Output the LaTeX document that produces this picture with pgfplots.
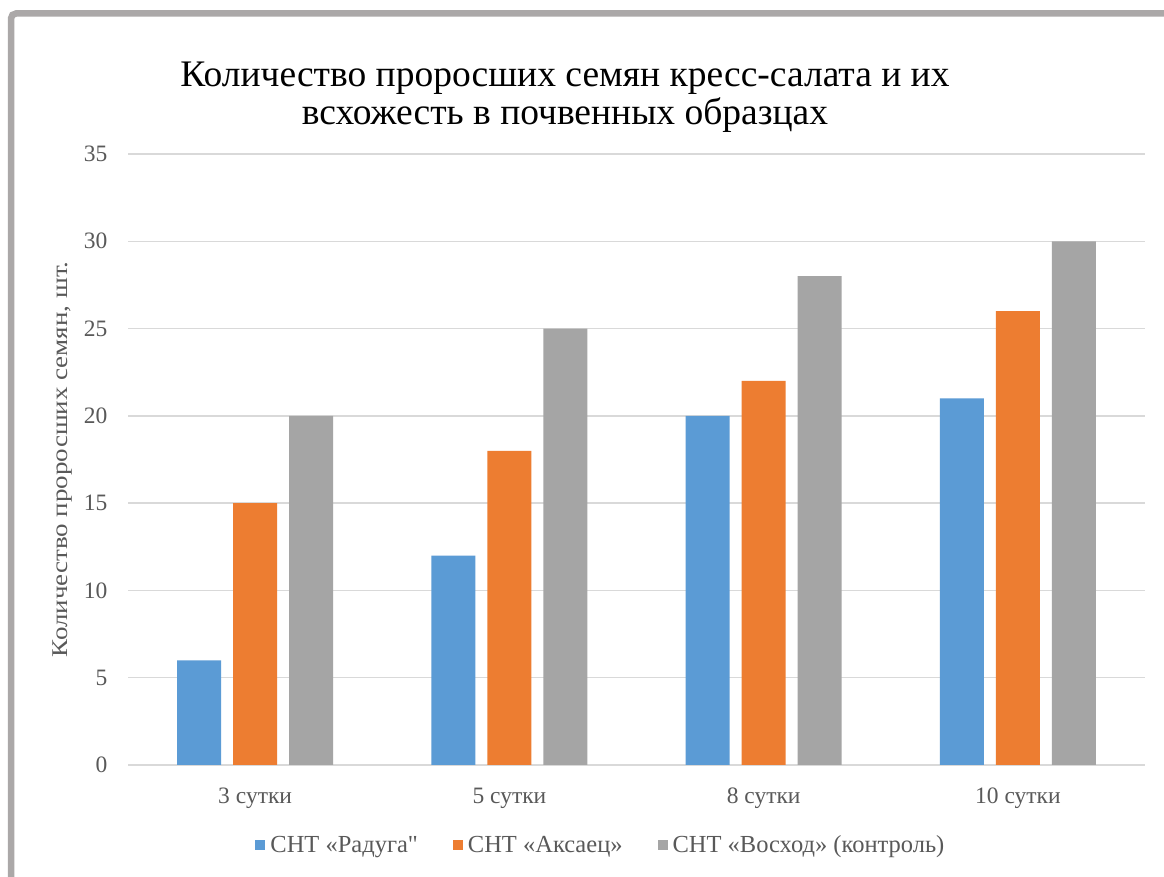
\documentclass[border=0pt]{standalone}
\usepackage{pgfplots}
\pgfplotsset{compat=1.18}
\usepackage{fontspec}
\setmainfont{Liberation Serif}[Ligatures=TeXOff]
\definecolor{cblue}{HTML}{5B9BD5}
\definecolor{corange}{HTML}{ED7D31}
\definecolor{cgray}{HTML}{A5A5A5}
\definecolor{gridc}{HTML}{D9D9D9}
\definecolor{tickc}{HTML}{595959}
\definecolor{framec}{HTML}{ABA8A8}
\begin{document}
\begin{tikzpicture}
\path[use as bounding box] (0,0) rectangle (1164bp,877bp);
\begin{scope}
\clip (0,0) rectangle (1164bp,877bp);
\fill[white] (0,0) rectangle (1164bp,877bp);
\draw[framec, line width=6.5bp, rounded corners=5bp] (11bp,-20bp) -- (11bp,863.5bp) -- (1190bp,863.5bp);
\end{scope}
\begin{axis}[
  at={(128bp,112bp)}, anchor=south west,
  scale only axis, width=1017bp, height=611bp,
  ybar=12bp, bar width=44bp,
  xmin=-0.5, xmax=3.5, ymin=0, ymax=35,
  xtick={0,1,2,3},
  xticklabels={3 сутки, 5 сутки, 8 сутки, 10 сутки},
  ytick={0,5,...,35},
  major tick length=0pt,
  axis x line*=bottom, axis y line*=left,
  y axis line style={draw=none},
  x axis line style={draw=gridc, line width=1.5bp, -},
  ymajorgrids, grid style={draw=gridc, line width=1.5bp},
  /pgf/number format/assume math mode=true,
  tick label style={font=\fontsize{23.5bp}{27bp}\selectfont, text=tickc},
  yticklabel style={xshift=-17bp},
  xticklabel style={anchor=base, yshift=-38bp},
  ylabel={Количество проросших семян, шт.},
  ylabel style={at={(axis description cs:-0.064,0.5)}, anchor=center, font=\fontsize{22.5bp}{26bp}\selectfont, text=tickc, xscale=1.2},
  legend columns=3,
  legend style={at={(axis description cs:0.465,-0.131)}, anchor=center, draw=none, fill=none,
    font=\fontsize{24.5bp}{28bp}\selectfont, text=tickc,
    /tikz/every even column/.append style={column sep=33bp},
    nodes={inner sep=2bp}},
  legend image code/.code={\fill[#1] (0bp,-5bp) rectangle (10bp,5bp);},
]
\addplot[fill=cblue, draw=none] coordinates {(0,6) (1,12) (2,20) (3,21)};
\addplot[fill=corange, draw=none] coordinates {(0,15) (1,18) (2,22) (3,26)};
\addplot[fill=cgray, draw=none] coordinates {(0,20) (1,25) (2,28) (3,30)};
\legend{\hspace{3bp}СНТ «Радуга", \hspace{3bp}СНТ «Аксаец», \hspace{3bp}СНТ «Восход» (контроль)}
\end{axis}
\node[align=center, font=\fontsize{37.5bp}{38bp}\selectfont, anchor=base] at (565bp,752bp) {Количество проросших семян кресс-салата и их\\всхожесть в почвенных образцах};
\end{tikzpicture}
\end{document}
